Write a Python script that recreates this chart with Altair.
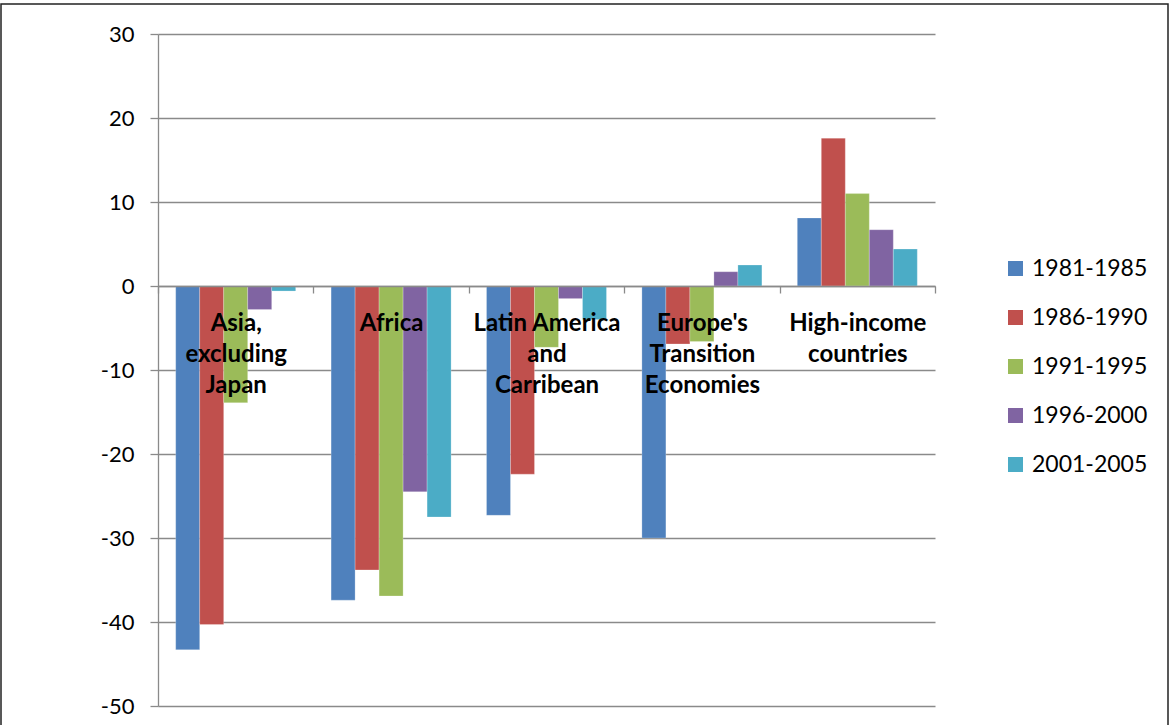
import altair as alt
import pandas as pd

periods = ["1981-1985", "1986-1990", "1991-1995", "1996-2000", "2001-2005"]
regions = ["Asia,|excluding|Japan", "Africa", "Latin America|and|Carribean",
           "Europe's|Transition|Economies", "High-income|countries"]
v_1981_1985 = [-43.3, -37.4, -27.3, -30.0, 8.1]
v_1986_1990 = [-40.3, -33.8, -22.4, -6.9, 17.6]
v_1991_1995 = [-13.9, -36.9, -7.3, -6.6, 11.0]
v_1996_2000 = [-2.8, -24.5, -1.5, 1.7, 6.7]
v_2001_2005 = [-0.6, -27.5, -4.0, 2.5, 4.4]
colors = ["#4F81BD", "#C0504D", "#9BBB59", "#8064A2", "#4BACC6"]
y_ticks = [-50, -40, -30, -20, -10, 0, 10, 20, 30]

series = [v_1981_1985, v_1986_1990, v_1991_1995, v_1996_2000, v_2001_2005]
rows = []
for p, vals in zip(periods, series):
    for r, v in zip(regions, vals):
        rows.append({"region": r, "period": p, "value": v})
df = pd.DataFrame(rows)

W, H = 777, 672
GRAY = "#8a8a8a"

bars = alt.Chart(df).mark_bar(stroke="white", strokeWidth=0.4, strokeOpacity=0.6).encode(
    x=alt.X("region:N", sort=regions,
            scale=alt.Scale(paddingInner=0, paddingOuter=0),
            axis=alt.Axis(title=None, orient="bottom", offset=-H * 50 / 80,
                          tickBand="extent", labelAngle=0, grid=False,
                          domainColor=GRAY, domainWidth=1.3,
                          tickColor=GRAY, tickWidth=1.3, tickSize=7,
                          labelExpr="split(datum.label, '|')",
                          labelFont="Lato", labelFontSize=24, labelFontWeight="bold",
                          labelColor="black", labelLineHeight=31, labelPadding=18,
                          labelBaseline="top", zindex=1)),
    xOffset=alt.XOffset("period:N", sort=periods,
                        scale=alt.Scale(paddingInner=0, paddingOuter=0.7375)),
    y=alt.Y("value:Q",
            scale=alt.Scale(domain=[-50, 30], nice=False, zero=False),
            axis=alt.Axis(title=None, values=y_ticks, grid=True,
                          gridColor=GRAY, gridWidth=1.3,
                          domainColor=GRAY, domainWidth=1.3,
                          tickColor=GRAY, tickWidth=1.3, tickSize=8,
                          labelExpr="'' + datum.value",
                          labelFont="Lato", labelFontSize=22, labelColor="black",
                          labelPadding=16, zindex=0)),
    color=alt.Color("period:N", sort=periods,
                    scale=alt.Scale(domain=periods, range=colors),
                    legend=alt.Legend(title=None, orient="none",
                                      legendX=846, legendY=223,
                                      symbolType="square", symbolSize=225,
                                      symbolStrokeWidth=0,
                                      labelFont="Lato", labelFontSize=23,
                                      labelColor="black", labelOffset=5,
                                      rowPadding=25, padding=0)),
)

frame = alt.Chart(pd.DataFrame({"a": [0]})).mark_rect(
    fill="transparent", stroke="#222222", strokeWidth=1.5
).encode(
    x=alt.value(-157), x2=alt.value(1010),
    y=alt.value(-30), y2=alt.value(700),
)

chart = alt.layer(bars, frame).properties(
    width=W, height=H,
    autosize=alt.AutoSizeParams(type="none"),
    padding={"left": 158, "top": 34, "right": 237, "bottom": 19},
).configure_view(strokeOpacity=0)

chart.save("out.html", embed_options={"renderer": "svg", "actions": False})
